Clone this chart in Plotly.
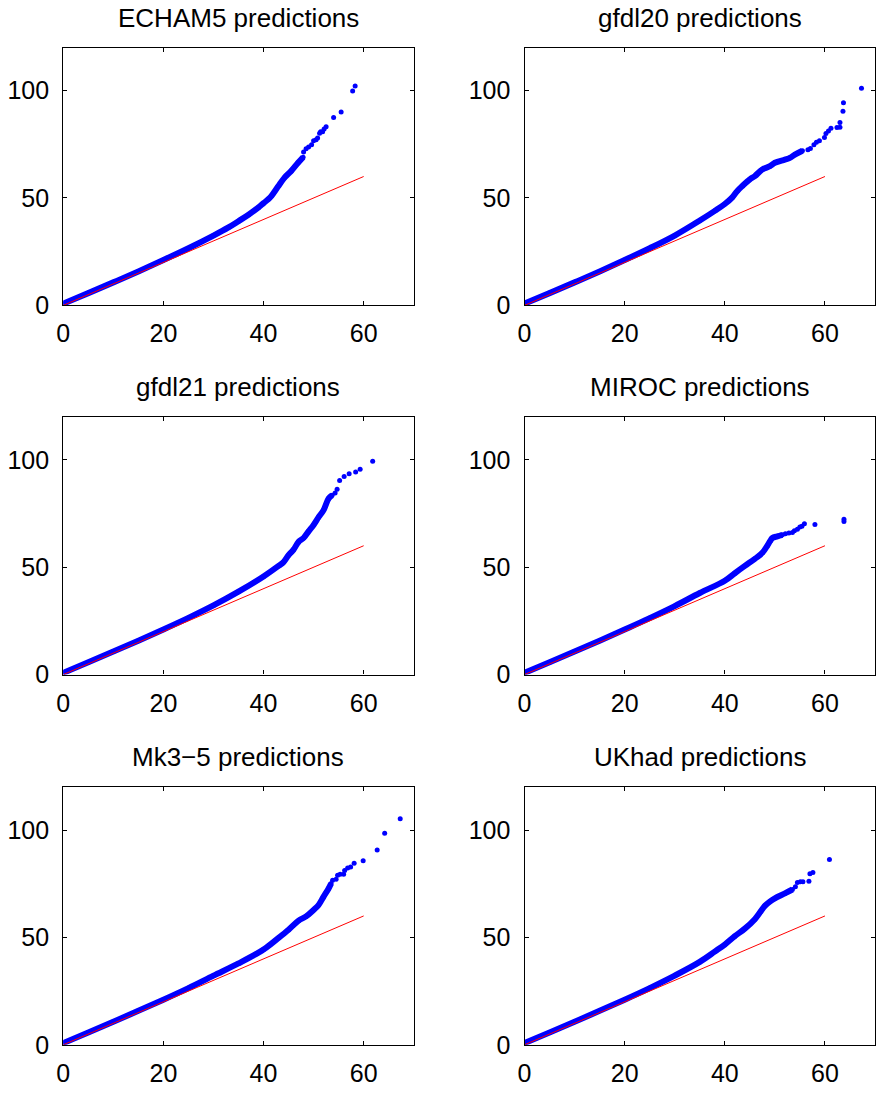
import plotly.graph_objects as go

# ---------------- data ----------------
titles = ["ECHAM5 predictions", "gfdl20 predictions", "gfdl21 predictions",
          "MIROC predictions", "Mk3\u22125 predictions", "UKhad predictions"]

x_ticks = [0, 20, 40, 60]
y_ticks = [0, 50, 100]
ref_x = [0, 60]
ref_y = [0, 60]

# dense part of each QQ cloud (observed quantile, predicted quantile)
echam5_dense_x = [0, 5, 10, 15, 20, 25, 30, 33, 35, 37, 39, 40, 41, 41.6, 42.9, 44.2, 45.5, 46.9, 47.9]
echam5_dense_y = [0.8, 5.7, 10.7, 15.8, 21.1, 26.6, 32.5, 36.3, 39.2, 42.2, 45.6, 47.6, 49.5, 51.0, 55.3, 59.5, 62.5, 66.4, 69.0]
echam5_tail_x = [48.0, 48.5, 49.0, 49.6, 50.0, 50.5, 50.8, 51.2, 51.4, 51.8, 52.1, 52.5, 54.0, 55.5, 57.8, 58.3]
echam5_tail_y = [71.4, 72.9, 73.7, 74.8, 76.6, 77.1, 77.9, 80.2, 80.9, 80.9, 82.1, 83.2, 87.5, 90.0, 99.8, 102.1]

gfdl20_dense_x = [0, 5, 10, 15, 20, 25, 30, 35, 38, 40, 41.5, 42.5, 43.5, 45, 46, 47.5, 49, 50, 52, 53, 54, 55.5]
gfdl20_dense_y = [0.8, 5.7, 10.7, 15.8, 21.1, 26.6, 32.5, 39.5, 44.0, 47.2, 50.3, 53.3, 55.6, 58.7, 60.2, 63.3, 64.8, 66.4, 67.9, 68.7, 70.2, 72.0]
gfdl20_tail_x = [56.6, 57.1, 57.8, 58.3, 58.9, 59.9, 60.2, 60.7, 61.2, 62.4, 63.0, 63.0, 63.6, 63.7, 67.3]
gfdl20_tail_y = [72.5, 73.0, 74.8, 76.0, 76.6, 78.2, 80.0, 81.2, 82.5, 82.8, 82.9, 85.2, 90.4, 94.4, 101.1]

gfdl21_dense_x = [0, 5, 10, 15, 20, 25, 30, 35, 40, 43, 44, 45, 46, 47, 48, 49, 50, 51, 52, 53, 53.7]
gfdl21_dense_y = [0.8, 5.7, 10.7, 15.8, 21.0, 26.4, 32.2, 38.6, 45.7, 50.6, 52.4, 55.6, 58.2, 61.8, 63.6, 66.7, 69.7, 73.3, 76.6, 82.0, 83.5]
gfdl21_tail_x = [54.3, 54.7, 55.2, 56.1, 57.1, 58.4, 59.3, 61.8]
gfdl21_tail_y = [84.6, 86.3, 90.4, 92.3, 93.5, 94.3, 95.6, 99.3]

miroc_dense_x = [0, 5, 10, 15, 20, 25, 30, 35, 40, 42, 44, 46, 47.5, 48.5, 49, 49.5, 50.5, 51.5]
miroc_dense_y = [0.8, 5.7, 10.7, 15.8, 21.0, 26.3, 31.9, 38.0, 43.7, 47.2, 50.6, 53.9, 56.7, 60.1, 62.0, 63.6, 64.4, 65.1]
miroc_tail_x = [52.1, 52.8, 53.5, 53.9, 54.5, 55.0, 55.4, 55.9, 58.0, 63.8, 63.8]
miroc_tail_y = [65.6, 65.9, 66.2, 67.0, 67.7, 68.7, 69.1, 70.2, 69.9, 72.3, 71.3]

mk35_dense_x = [0, 5, 10, 15, 20, 25, 30, 35, 40, 43, 45, 47, 48.5, 50, 51, 52, 53, 53.5]
mk35_dense_y = [0.8, 5.7, 10.7, 15.8, 21.0, 26.4, 32.2, 37.9, 44.4, 49.8, 53.6, 57.8, 59.8, 62.8, 65.1, 69.0, 72.8, 75.1]
mk35_tail_x = [53.8, 54.5, 54.8, 55.3, 56.0, 56.2, 56.8, 57.4, 58.1, 59.9, 62.7, 64.2, 67.3]
mk35_tail_y = [76.6, 77.1, 78.9, 79.4, 79.4, 81.2, 82.3, 82.8, 84.6, 85.7, 90.7, 98.5, 105.3]

ukhad_dense_x = [0, 5, 10, 15, 20, 25, 30, 35, 38, 40, 42, 44, 46, 47, 48, 49, 50, 52, 53.5]
ukhad_dense_y = [0.8, 5.7, 10.7, 15.8, 21.0, 26.4, 32.2, 38.6, 43.4, 46.7, 50.6, 54.1, 58.5, 61.6, 64.7, 66.7, 68.2, 70.5, 72.3]
ukhad_tail_x = [54.1, 54.5, 55.1, 55.6, 56.8, 57.0, 57.6, 60.9]
ukhad_tail_y = [73.6, 75.6, 75.9, 75.9, 76.2, 79.7, 80.2, 86.3]

panels = [
    (echam5_dense_x, echam5_dense_y, echam5_tail_x, echam5_tail_y),
    (gfdl20_dense_x, gfdl20_dense_y, gfdl20_tail_x, gfdl20_tail_y),
    (gfdl21_dense_x, gfdl21_dense_y, gfdl21_tail_x, gfdl21_tail_y),
    (miroc_dense_x, miroc_dense_y, miroc_tail_x, miroc_tail_y),
    (mk35_dense_x, mk35_dense_y, mk35_tail_x, mk35_tail_y),
    (ukhad_dense_x, ukhad_dense_y, ukhad_tail_x, ukhad_tail_y),
]

# ---------------- layout geometry ----------------
W, H = 876, 1096
col_px = [(56.7, 410.0), (521.7, 875.0)]
row_px = [(48.3, 309.3), (422.3, 683.3), (797.3, 1058.3)]

FONT = "Liberation Sans, Arial, Helvetica, sans-serif"
BLUE = "#0000FF"
RED = "#FF0000"

fig = go.Figure()
layout = dict(
    width=W, height=H, margin=dict(l=0, r=0, t=0, b=0),
    paper_bgcolor="white", plot_bgcolor="white", showlegend=False,
    font=dict(family=FONT, size=25, color="black"),
)
annotations = []

for i, (dx, dy, tx, ty) in enumerate(panels):
    r, c = divmod(i, 2)
    n = "" if i == 0 else str(i + 1)
    xa, ya = "x" + n, "y" + n
    x0, x1 = col_px[c]
    top, bot = row_px[r]
    xdom = [x0 / W, x1 / W]
    ydom = [1 - bot / H, 1 - top / H]
    axis_common = dict(showline=True, linecolor="black", linewidth=1.3, mirror="ticks",
                       ticks="inside", ticklen=4, tickwidth=1, tickcolor="black",
                       showgrid=False, zeroline=False,
                       tickfont=dict(family=FONT, size=25, color="black"))
    layout["xaxis" + n] = dict(domain=xdom, range=[0, 70], tickvals=x_ticks,
                               anchor=ya, ticklabelstandoff=6, **axis_common)
    layout["yaxis" + n] = dict(domain=ydom, range=[0, 120], tickvals=y_ticks,
                               anchor=xa, ticklabelstandoff=8, **axis_common)

    fig.add_trace(go.Scatter(x=dx, y=dy, mode="lines+markers", xaxis=xa, yaxis=ya,
                             line=dict(color=BLUE, width=6, shape="spline"),
                             marker=dict(color=BLUE, size=5)))
    fig.add_trace(go.Scatter(x=tx, y=ty, mode="markers", xaxis=xa, yaxis=ya,
                             marker=dict(color=BLUE, size=5)))
    fig.add_trace(go.Scatter(x=ref_x, y=ref_y, mode="lines", xaxis=xa, yaxis=ya,
                             line=dict(color=RED, width=1)))

    annotations.append(dict(text=titles[i], xref="paper", yref="paper",
                            x=(xdom[0] + xdom[1]) / 2, y=ydom[1],
                            xanchor="center", yanchor="bottom", yshift=13,
                            showarrow=False,
                            font=dict(family=FONT, size=26, color="black")))

layout["annotations"] = annotations
fig.update_layout(**layout)
fig.write_html("out.html")
